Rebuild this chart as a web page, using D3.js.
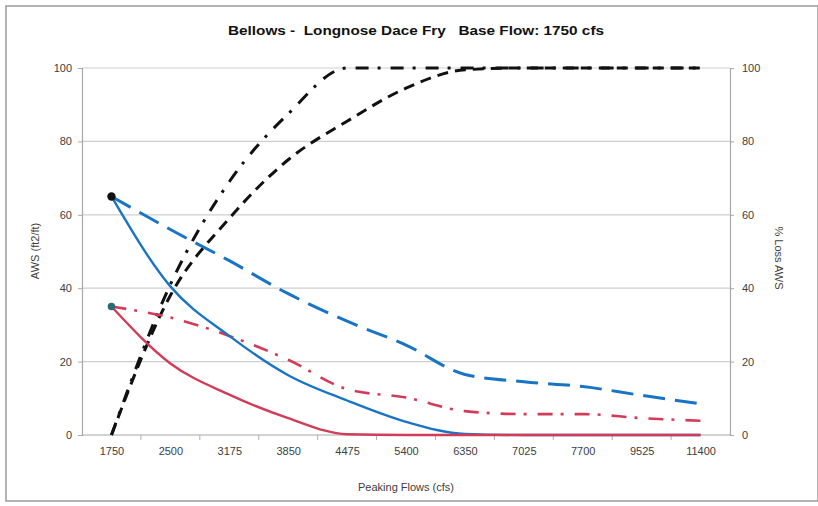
<!DOCTYPE html>
<html>
<head>
<meta charset="utf-8">
<script src="https://cdn.jsdelivr.net/npm/d3@7"></script>
<style>
  html, body { margin: 0; padding: 0; background: #fff; }
  svg { display: block; font-family: "Liberation Sans", Arial, sans-serif; }
</style>
</head>
<body>
<svg id="chart" width="818" height="506"></svg>
<script>
// ---- data ----
const categories = ["1750", "2500", "3175", "3850", "4475", "5400", "6350", "7025", "7700", "9525", "11400"];
const blueSolid  = [65, 40.5, 27, 16.3, 9.4, 3.6, 0.3, 0, 0, 0, 0];
const blueDashed = [65, 56, 47.5, 38.5, 31, 24.5, 16.5, 14.5, 13.2, 10.8, 8.5];
const redSolid   = [35, 19.5, 11, 4.6, 0.2, 0, 0, 0, 0, 0, 0];
const redDashDot = [35, 32, 27, 20.5, 12.5, 10.2, 6.5, 5.7, 5.7, 4.6, 3.9];
const lossDashed  = [0, 38, 59, 75, 85.5, 94.5, 99.5, 100, 100, 100, 100];
const lossDashDot = [0, 41, 69, 87.5, 100, 100, 100, 100, 100, 100, 100];
const yTicks = [0, 20, 40, 60, 80, 100];
const title = "Bellows -  Longnose Dace Fry   Base Flow: 1750 cfs";
const xTitle = "Peaking Flows (cfs)";
const yTitleLeft = "AWS (ft2/ft)";
const yTitleRight = "% Loss AWS";

// ---- layout ----
const svg = d3.select("#chart");
const L = 82, R = 730, T = 68, B = 435;

// outer frame
svg.append("rect").attr("x", 6).attr("y", 6).attr("width", 812).attr("height", 495)
  .attr("fill", "#fff").attr("stroke", "#9a9a9a").attr("stroke-width", 1.5);

const x = d3.scalePoint().domain(categories).range([L, R]).padding(0.5);
const yL = d3.scaleLinear().domain([0, 100]).range([B, T]);
const yR = d3.scaleLinear().domain([0, 100]).range([B, T]);

// gridlines
svg.append("g").selectAll("line").data(yTicks.filter(d => d > 0)).join("line")
  .attr("x1", L).attr("x2", R)
  .attr("y1", d => yL(d)).attr("y2", d => yL(d))
  .attr("stroke", "#cfcfcf").attr("stroke-width", 1.2);

// axes
const textColor = "#404040";
const gL = svg.append("g").attr("transform", `translate(${L},0)`)
  .call(d3.axisLeft(yL).tickValues(yTicks).tickSize(4).tickPadding(6));
const gR = svg.append("g").attr("transform", `translate(${R},0)`)
  .call(d3.axisRight(yR).tickValues(yTicks).tickSize(4).tickPadding(8));
const gB = svg.append("g").attr("transform", `translate(0,${B})`)
  .call(d3.axisBottom(x).tickSize(0).tickPadding(12));
[gL, gR, gB].forEach(g => {
  g.select(".domain").attr("stroke", "#a8a8a8").attr("stroke-width", 1.2);
  g.selectAll(".tick line").attr("stroke", "#a8a8a8");
  g.selectAll("text").attr("fill", textColor).attr("font-size", 11)
    .attr("font-family", "'Liberation Sans', Arial, sans-serif");
});
gB.select(".domain").attr("d", `M${L},0H${R}`);
// category boundary ticks
const step = x.step();
svg.append("g").selectAll("line").data(categories.slice(1)).join("line")
  .attr("x1", d => x(d) - step / 2).attr("x2", d => x(d) - step / 2)
  .attr("y1", B).attr("y2", B + 5)
  .attr("stroke", "#b0b0b0").attr("stroke-width", 1);

// titles
svg.append("text").attr("x", 416).attr("y", 35).attr("text-anchor", "middle")
  .attr("font-size", 13.5).attr("font-weight", "bold").attr("fill", "#111")
  .attr("textLength", 376).attr("lengthAdjust", "spacingAndGlyphs")
  .style("white-space", "pre").attr("xml:space", "preserve").text(title);
svg.append("text").attr("x", 406).attr("y", 491).attr("text-anchor", "middle")
  .attr("font-size", 11).attr("fill", textColor).text(xTitle);
svg.append("text").attr("transform", "translate(39,251) rotate(-90)")
  .attr("text-anchor", "middle").attr("font-size", 11).attr("fill", textColor).text(yTitleLeft);
svg.append("text").attr("transform", "translate(775,258) rotate(90)")
  .attr("text-anchor", "middle").attr("font-size", 11).attr("fill", textColor).text(yTitleRight);

// lines
const lineL = d3.line().x((d, i) => x(categories[i])).y(d => yL(d)).curve(d3.curveMonotoneX);
const lineR = d3.line().x((d, i) => x(categories[i])).y(d => yR(d)).curve(d3.curveMonotoneX);
const blue = "#1a74c6", red = "#d23c58";
const series = [
  { data: lossDashed,  line: lineR, color: "#111", width: 3, dash: "11,7" },
  { data: lossDashDot, line: lineR, color: "#111", width: 3, dash: "13,9,3,10" },
  { data: blueDashed,  line: lineL, color: blue, width: 3, dash: "22,10" },
  { data: redDashDot,  line: lineL, color: red, width: 2.6, dash: "15,8,3,11" },
  { data: blueSolid,   line: lineL, color: blue, width: 2.4, dash: null },
  { data: redSolid,    line: lineL, color: red, width: 2.4, dash: null }
];
svg.append("g").selectAll("path").data(series).join("path")
  .attr("d", s => s.line(s.data))
  .attr("fill", "none")
  .attr("stroke", s => s.color)
  .attr("stroke-width", s => s.width)
  .attr("stroke-dasharray", s => s.dash);

// start markers
svg.append("circle").attr("cx", x(categories[0])).attr("cy", yL(blueSolid[0])).attr("r", 4.2).attr("fill", "#111");
svg.append("circle").attr("cx", x(categories[0])).attr("cy", yL(redSolid[0])).attr("r", 3.8).attr("fill", "#2b6b72");
</script>
</body>
</html>
